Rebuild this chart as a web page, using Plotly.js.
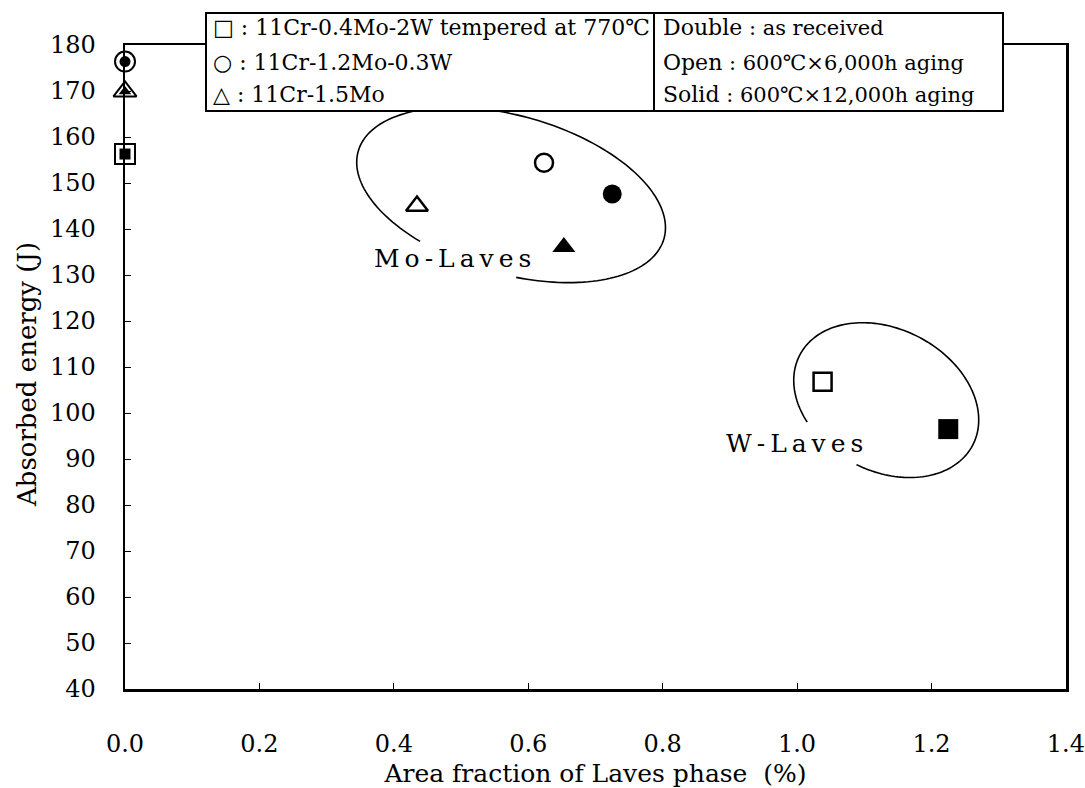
<!DOCTYPE html>
<html>
<head>
<meta charset="utf-8">
<script src="https://cdn.plot.ly/plotly-3.0.1.min.js"></script>
<style>html,body{margin:0;padding:0;background:#fff;}#chart{width:1085px;height:788px;}</style>
</head>
<body>
<div id="chart"></div>
<script>
// ---------------- data ----------------
const alloys = ['11Cr-0.4Mo-2W tempered at 770℃', '11Cr-1.2Mo-0.3W', '11Cr-1.5Mo'];
const asReceivedX = [0, 0, 0];
const asReceivedY = [156.3, 176.4, 169.9];
const aged6000X = [1.038, 0.6235, 0.4345];
const aged6000Y = [106.8, 154.4, 145.0];
const aged12000X = [1.225, 0.725, 0.653];
const aged12000Y = [96.5, 147.6, 136.1];
const xTicks = [0, 0.2, 0.4, 0.6, 0.8, 1.0, 1.2, 1.4];
const xTickText = ['0.0', '0.2', '0.4', '0.6', '0.8', '1.0', '1.2', '1.4'];
const yTicks = [40, 50, 60, 70, 80, 90, 100, 110, 120, 130, 140, 150, 160, 170, 180];

// ---------------- layout geometry ----------------
const W = 1085, H = 788;
const M = {l: 125, r: 19, t: 45, b: 99};
const plotW = W - M.l - M.r, plotH = H - M.t - M.b;
const xRange = [0, 1.4002], yRange = [40, 180];
const pxPerX = plotW / (xRange[1] - xRange[0]);
const pxPerY = plotH / (yRange[1] - yRange[0]);
const FONT = 'DejaVu Serif, Liberation Serif, serif';

const shapesSym = ['square', 'circle', 'triangle-up'];
const openSize = [18, 18, 19];
const solidSize = [20, 19, 20];

const traces = [];
for (let i = 0; i < alloys.length; i++) {
  // as received: double marker (outer outline + inner solid)
  traces.push({x: [asReceivedX[i]], y: [asReceivedY[i]], mode: 'markers', type: 'scatter',
    name: alloys[i] + ' as received', cliponaxis: false, hoverinfo: 'skip',
    marker: {symbol: shapesSym[i], size: 20, color: 'white', line: {color: 'black', width: 2}}});
  traces.push({x: [asReceivedX[i]], y: [asReceivedY[i]], mode: 'markers', type: 'scatter',
    name: alloys[i] + ' as received (inner)', cliponaxis: false, hoverinfo: 'skip',
    marker: {symbol: shapesSym[i], size: 11, color: 'black', line: {width: 0}}});
  // 6000 h: open
  traces.push({x: [aged6000X[i]], y: [aged6000Y[i]], mode: 'markers', type: 'scatter',
    name: alloys[i] + ' 6000h', cliponaxis: false,
    marker: {symbol: shapesSym[i], size: openSize[i], color: 'white', line: {color: 'black', width: 2.5}}});
  // 12000 h: solid
  traces.push({x: [aged12000X[i]], y: [aged12000Y[i]], mode: 'markers', type: 'scatter',
    name: alloys[i] + ' 12000h', cliponaxis: false,
    marker: {symbol: shapesSym[i], size: solidSize[i], color: 'black', line: {width: 0}}});
}

// ellipse outline (annotation) in data coords, computed from pixel geometry
function ellipsePath(cx, cy, aPx, bPx, thDeg, gapFrom, gapTo) {
  const th = thDeg * Math.PI / 180;
  let d = '';
  const start = gapTo, end = gapFrom + 360;
  for (let tDeg = start; tDeg <= end + 0.001; tDeg += 2) {
    const t = tDeg * Math.PI / 180;
    const dx = aPx * Math.cos(t) * Math.cos(th) - bPx * Math.sin(t) * Math.sin(th);
    const dy = aPx * Math.cos(t) * Math.sin(th) + bPx * Math.sin(t) * Math.cos(th);
    const x = cx + dx / pxPerX, y = cy - dy / pxPerY;
    d += (d ? ' L' : 'M') + x.toFixed(5) + ',' + y.toFixed(4);
  }
  return d;
}

const shapes = [
  {type: 'path', xref: 'x', yref: 'y', path: ellipsePath(0.5745, 147.4, 159, 79, 16, 80, 118),
   line: {color: 'black', width: 1.6}},
  {type: 'path', xref: 'x', yref: 'y', path: ellipsePath(1.1327, 102.8, 97.5, 71, 27.5, 89, 128),
   line: {color: 'black', width: 1.6}},
];
function px2paperX(px) { return (px - M.l) / plotW; }
function px2paperY(py) { return (H - M.b - py) / plotH; }
shapes.push({type: 'rect', xref: 'paper', yref: 'paper', layer: 'above',
  x0: px2paperX(206), x1: px2paperX(654), y0: px2paperY(111), y1: px2paperY(13),
  line: {color: 'black', width: 2}, fillcolor: 'white'});
shapes.push({type: 'rect', xref: 'paper', yref: 'paper', layer: 'above',
  x0: px2paperX(654), x1: px2paperX(1003), y0: px2paperY(111), y1: px2paperY(13),
  line: {color: 'black', width: 2}, fillcolor: 'white'});

const legendSyms = ['□', '○', '△'];
const lineY = [28, 62, 95];
const annotations = [];
for (let i = 0; i < alloys.length; i++) {
  annotations.push({xref: 'paper', yref: 'paper', x: px2paperX(211), y: px2paperY(lineY[i]),
    xanchor: 'left', yanchor: 'middle', showarrow: false,
    text: legendSyms[i] + ' : ' + alloys[i], font: {family: FONT, size: 22, color: 'black'}});
}
const condText = [
  'Double<span style="font-size:21px"> : as received</span>',
  'Open<span style="font-size:21px"> : 600℃×6,000h aging</span>',
  'Solid<span style="font-size:21px"> : 600℃×12,000h aging</span>'
];
for (let i = 0; i < 3; i++) {
  annotations.push({xref: 'paper', yref: 'paper', x: px2paperX(661), y: px2paperY(lineY[i]),
    xanchor: 'left', yanchor: 'middle', showarrow: false,
    text: condText[i], font: {family: FONT, size: 22, color: 'black'}});
}
const ts = '\u2009';
annotations.push({xref: 'x', yref: 'y', x: 0.487, y: 133.5, showarrow: false,
  text: ['M','o','-','L','a','v','e','s'].join(ts), font: {family: FONT, size: 25, color: 'black'}});
annotations.push({xref: 'x', yref: 'y', x: 0.996, y: 93.3, showarrow: false,
  text: ['W','-','L','a','v','e','s'].join(ts), font: {family: FONT, size: 25, color: 'black'}});
// y axis title
annotations.push({xref: 'paper', yref: 'paper', x: px2paperX(27), y: px2paperY(375), textangle: -90,
  xanchor: 'center', yanchor: 'middle', showarrow: false,
  text: 'Absorbed energy (J)', font: {family: FONT, size: 26, color: 'black'}});

const layout = {
  width: W, height: H,
  margin: M,
  paper_bgcolor: 'white', plot_bgcolor: 'white',
  showlegend: false,
  font: {family: FONT, color: 'black'},
  xaxis: {
    range: xRange, tickvals: xTicks, ticktext: xTickText,
    showgrid: false, zeroline: false,
    showline: true, linecolor: 'black', linewidth: 2.5, mirror: true,
    ticks: 'inside', ticklen: 6, tickwidth: 1, tickcolor: 'black',
    ticklabelstandoff: 32, ticklabeloverflow: 'allow',
    tickfont: {family: FONT, size: 24, color: 'black'},
    title: {text: 'Area fraction of Laves phase  (%)', font: {family: FONT, size: 25, color: 'black'}, standoff: 10},
    automargin: false
  },
  yaxis: {
    range: yRange, tickvals: yTicks,
    showgrid: false, zeroline: false,
    showline: true, linecolor: 'black', linewidth: 2.5, mirror: true,
    ticks: 'inside', ticklen: 6, tickwidth: 1, tickcolor: 'black',
    ticklabelstandoff: 22,
    tickfont: {family: FONT, size: 24, color: 'black'},
    automargin: false
  },
  shapes: shapes,
  annotations: annotations
};

Plotly.newPlot('chart', traces, layout, {staticPlot: true, displayModeBar: false});
</script>
</body>
</html>
